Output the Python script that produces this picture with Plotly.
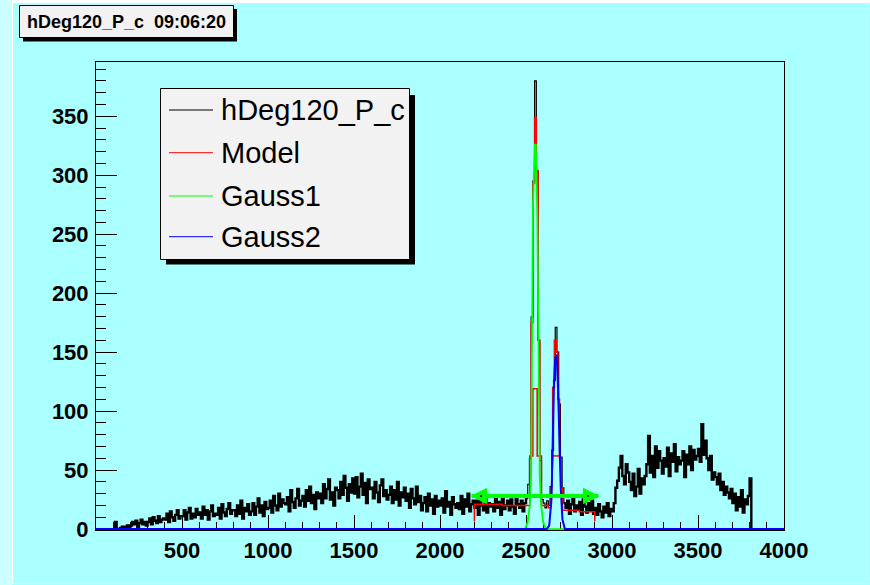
import plotly.graph_objects as go

# ---------------- data ----------------
hist_start = 100
hist_width = 10
counts_100_1000 = [
    0, 6, 0, 0, 1, 2, 1, 2, 3, 2,
    3, 6, 4, 7, 2, 5, 8, 4, 6, 3,
    6, 9, 4, 10, 7, 5, 11, 6, 8, 9,
    8, 13, 6, 15, 10, 7, 12, 16, 9, 11,
    11, 16, 8, 14, 18, 9, 13, 10, 17, 12,
    14, 9, 19, 12, 16, 8, 15, 20, 11, 13,
    12, 18, 9, 21, 14, 11, 17, 22, 13, 16,
    16, 11, 20, 13, 24, 9, 18, 15, 21, 12,
    15, 22, 12, 19, 26, 14, 20, 11, 23, 17,
]
counts_1000_2000 = [
    18, 24, 14, 28, 20, 16, 30, 19, 25, 22,
    21, 27, 15, 33, 23, 18, 26, 34, 20, 24,
    28, 19, 33, 24, 36, 22, 29, 17, 31, 26,
    30, 22, 38, 26, 34, 42, 25, 31, 20, 35,
    33, 26, 40, 29, 45, 35, 24, 38, 31, 43,
    30, 44, 27, 36, 47, 29, 39, 22, 42, 34,
    35, 26, 40, 31, 23, 37, 42, 28, 33, 25,
    29, 36, 22, 33, 25, 40, 20, 31, 27, 35,
    24, 30, 18, 34, 26, 21, 36, 23, 28, 16,
    22, 27, 15, 30, 20, 25, 13, 28, 19, 24,
]
counts_2000_3000 = [
    20, 26, 14, 32, 19, 23, 12, 27, 21, 18,
    22, 17, 28, 13, 25, 19, 30, 15, 21, 24,
    18, 24, 12, 27, 20, 16, 25, 14, 22, 19,
    21, 15, 26, 18, 23, 12, 28, 17, 20, 24,
    16, 25, 19, 13, 27, 21, 18, 24, 15, 22,
    26, 38, 60, 180, 295, 380, 304, 160, 58, 25,
    22, 18, 24, 20, 36, 67, 126, 171, 150, 106,
    61, 35, 22, 18, 24, 13, 21, 26, 15, 20,
    17, 23, 12, 25, 19, 14, 22, 16, 24, 13,
    18, 12, 21, 15, 10, 19, 14, 22, 11, 17,
]
counts_3000_3810 = [
    15, 22, 35, 41, 52, 62, 45, 38, 55, 48,
    40, 33, 47, 28, 36, 51, 30, 43, 38, 45,
    55, 79, 48, 62, 44, 70, 52, 66, 58, 47,
    60, 53, 69, 45, 64, 57, 72, 49, 61, 55,
    58, 66, 44, 63, 55, 70, 50, 67, 59, 62,
    68, 57, 89, 63, 75, 60, 50, 62, 42, 48,
    44, 38, 47, 33, 40, 29, 36, 31, 26, 34,
    22, 30, 16, 27, 19, 33, 14, 25, 21, 28,
    43,
]
peak_region = [2510, 2720]   # x-range where the histogram is drawn with a fine line

model_x = [2200, 2200, 2360, 2360, 2522, 2522, 2530, 2530, 2540, 2540, 2550, 2550,
           2560, 2560, 2570, 2570, 2580, 2580, 2590, 2590, 2630, 2630, 2645, 2645,
           2655, 2655, 2665, 2665, 2675, 2675, 2685, 2685, 2695, 2695, 2705, 2705,
           2712, 2712, 2810, 2810, 2900, 2900,
           None, 2530, 2540, 2540, 2565, 2565, 2580,
           None, 2650, 2700]
model_y = [6.5, 21, 21, 20, 20, 62, 62, 175, 175, 293, 293, 349,
           349, 304, 304, 160, 160, 62, 62, 20, 20, 18, 18, 22,
           60, 120, 120, 160, 160, 150, 150, 110, 110, 60, 60, 35,
           35, 16, 16, 14.7, 14.7, 6.5,
           None, 62, 62, 119, 119, 62, 62,
           None, 62, 62]

gauss1_x = [0, 2495, 2510, 2522, 2530, 2540, 2552, 2557, 2566, 2580, 2588, 2600, 2615, 4000]
gauss1_y = [0, 0, 6, 20, 45, 273, 326, 326, 264, 45, 20, 6, 0, 0]

gauss2_x = [0, 2620, 2635, 2648, 2655, 2662, 2670, 2678, 2686, 2694, 2702, 2712, 2726, 4000]
gauss2_y = [0, 0, 3, 25, 70, 120, 145, 148, 120, 75, 35, 8, 0, 0]

arrow_x = [2184, 2921]
arrow_y = 28
arrow_dot_x = [2238, 2860]

x_tick_vals = [500, 1000, 1500, 2000, 2500, 3000, 3500, 4000]
y_tick_vals = [0, 50, 100, 150, 200, 250, 300, 350]
legend_labels = ["hDeg120_P_c", "Model", "Gauss1", "Gauss2"]
legend_colors = ["#000000", "#ff0000", "#00ff00", "#0000ff"]
title_text = "hDeg120_P_c  09:06:20"

# ---------------- layout constants ----------------
W, H = 870, 585
ML, MR, MT, MB = 96, 86, 62, 55
PW = W - ML - MR
PH = H - MT - MB
BG = "#aaffff"
BOX = "#f2f2f2"


def px(v):
    return (v - ML) / PW


def py(v):
    return (H - MB - v) / PH


counts = counts_100_1000 + counts_1000_2000 + counts_2000_3000 + counts_3000_3810
edges = [hist_start + hist_width * i for i in range(len(counts) + 1)]


def steps(i0, i1, start_zero=False, end_zero=False):
    xs, ys = [], []
    if start_zero:
        xs.append(edges[i0]); ys.append(0)
    for i in range(i0, i1):
        xs.append(edges[i]); ys.append(counts[i])
    xs.append(edges[i1]); ys.append(counts[i1 - 1])
    if end_zero:
        xs.append(edges[i1]); ys.append(0)
    return xs, ys


k0 = (peak_region[0] - hist_start) // hist_width
k1 = (peak_region[1] - hist_start) // hist_width
n = len(counts)

fig = go.Figure()
for (a, b, sz, ez, w) in [(0, k0, True, False, 2.4), (k1, n, False, True, 2.4), (k0 - 1, k1 + 1, False, False, 1.2)]:
    xs, ys = steps(a, b, sz, ez)
    fig.add_trace(go.Scatter(x=xs, y=ys, mode="lines", line=dict(color="black", width=w, shape="hv"),
                             name=legend_labels[0], showlegend=False))
fig.add_trace(go.Scatter(x=model_x, y=model_y, mode="lines", connectgaps=False,
                         line=dict(color="#ff0000", width=1.5), name=legend_labels[1], showlegend=False))
fig.add_trace(go.Scatter(x=gauss1_x, y=gauss1_y, mode="lines",
                         line=dict(color="#00ff00", width=1.8), name=legend_labels[2], showlegend=False))
fig.add_trace(go.Scatter(x=gauss2_x, y=gauss2_y, mode="lines",
                         line=dict(color="#0000ff", width=2), name=legend_labels[3], showlegend=False))

# double arrow
head_len, head_half = 87, 6.4
fig.add_trace(go.Scatter(x=arrow_x, y=[arrow_y, arrow_y], mode="lines",
                         line=dict(color="#00ff00", width=4), showlegend=False, hoverinfo="skip"))
fig.add_trace(go.Scatter(
    x=[arrow_x[0], arrow_x[0] + head_len, arrow_x[0] + head_len, arrow_x[0], None,
       arrow_x[1], arrow_x[1] - head_len, arrow_x[1] - head_len, arrow_x[1]],
    y=[arrow_y, arrow_y + head_half, arrow_y - head_half, arrow_y, None,
       arrow_y, arrow_y + head_half, arrow_y - head_half, arrow_y],
    mode="lines", fill="toself", fillcolor="#00ff00", line=dict(color="#00ff00", width=1),
    showlegend=False, hoverinfo="skip"))
fig.add_trace(go.Scatter(x=arrow_dot_x, y=[arrow_y, arrow_y], mode="markers",
                         marker=dict(color="black", size=2), showlegend=False, hoverinfo="skip"))

shapes = []
# canvas bevel
shapes.append(dict(type="rect", xref="paper", yref="paper", x0=px(0), x1=px(12), y0=py(585), y1=py(0),
                   fillcolor="#ccffff", line=dict(width=0), layer="below"))
shapes.append(dict(type="line", xref="paper", yref="paper", x0=px(12.5), x1=px(12.5), y0=py(583), y1=py(2),
                   line=dict(color="white", width=1)))
shapes.append(dict(type="line", xref="paper", yref="paper", x0=px(12), x1=px(870), y0=py(1.5), y1=py(1.5),
                   line=dict(color="white", width=3)))
shapes.append(dict(type="line", xref="paper", yref="paper", x0=px(12), x1=px(868), y0=py(583.5), y1=py(583.5),
                   line=dict(color="#d8ffff", width=1)))
shapes.append(dict(type="line", xref="paper", yref="paper", x0=px(867.5), x1=px(867.5), y0=py(583.5), y1=py(2),
                   line=dict(color="#d8ffff", width=1)))

# title box
shapes.append(dict(type="rect", xref="paper", yref="paper", x0=px(23), x1=px(237), y0=py(41.5), y1=py(9),
                   fillcolor="black", line=dict(width=0)))
shapes.append(dict(type="rect", xref="paper", yref="paper", x0=px(19.5), x1=px(233.5), y0=py(37.5), y1=py(5.5),
                   fillcolor=BOX, line=dict(color="black", width=1)))

# legend box
shapes.append(dict(type="rect", xref="paper", yref="paper", x0=px(166), x1=px(415), y0=py(264.5), y1=py(95),
                   fillcolor="black", line=dict(width=0), layer="above"))
shapes.append(dict(type="rect", xref="paper", yref="paper", x0=px(160.5), x1=px(409.5), y0=py(259.5), y1=py(88.5),
                   fillcolor=BOX, line=dict(color="black", width=1), layer="above"))
rows = [110, 152.7, 196, 236.7]
annotations = []
for lab, col, r in zip(legend_labels, legend_colors, rows):
    shapes.append(dict(type="line", xref="paper", yref="paper", x0=px(169), x1=px(213), y0=py(r), y1=py(r),
                       line=dict(color=col, width=1), layer="above"))
    annotations.append(dict(xref="paper", yref="paper", x=px(219), y=py(r), text=lab, showarrow=False,
                            xanchor="left", yanchor="middle",
                            font=dict(family="Liberation Sans", size=29, color="black")))

annotations.append(dict(xref="paper", yref="paper", x=px(126.5), y=py(21.5), text=title_text, showarrow=False,
                        xanchor="center", yanchor="middle",
                        font=dict(family="Liberation Sans", size=18, color="black", weight="bold")))

fig.update_layout(
    width=W, height=H,
    margin=dict(l=ML, r=MR, t=MT, b=MB, pad=0),
    paper_bgcolor=BG, plot_bgcolor=BG,
    showlegend=False,
    shapes=shapes, annotations=annotations,
    xaxis=dict(range=[0, 4000], tickvals=x_tick_vals, ticktext=[str(v) for v in x_tick_vals],
               ticks="inside", ticklen=15, tickcolor="black", tickwidth=1,
               minor=dict(dtick=100, tick0=0, ticks="inside", ticklen=8, tickcolor="black", showgrid=False),
               showgrid=False, zeroline=False, showline=True, linecolor="black", linewidth=1, mirror=True,
               tickfont=dict(family="Liberation Sans", size=22, color="black", weight="bold"),
               ticklabelstandoff=1, layer="below traces"),
    yaxis=dict(range=[-0.8, 396], tickvals=y_tick_vals, ticktext=[str(v) for v in y_tick_vals],
               ticks="inside", ticklen=21, tickcolor="black", tickwidth=1,
               minor=dict(dtick=10, tick0=0, ticks="inside", ticklen=10, tickcolor="black", showgrid=False),
               showgrid=False, zeroline=False, showline=True, linecolor="black", linewidth=1, mirror=True,
               tickfont=dict(family="Liberation Sans", size=22, color="black", weight="bold"),
               ticklabelstandoff=2, layer="below traces"),
)

fig.write_html("out.html", config={"displayModeBar": False},
               post_script="document.body.style.margin='0';document.body.style.overflow='hidden';")
